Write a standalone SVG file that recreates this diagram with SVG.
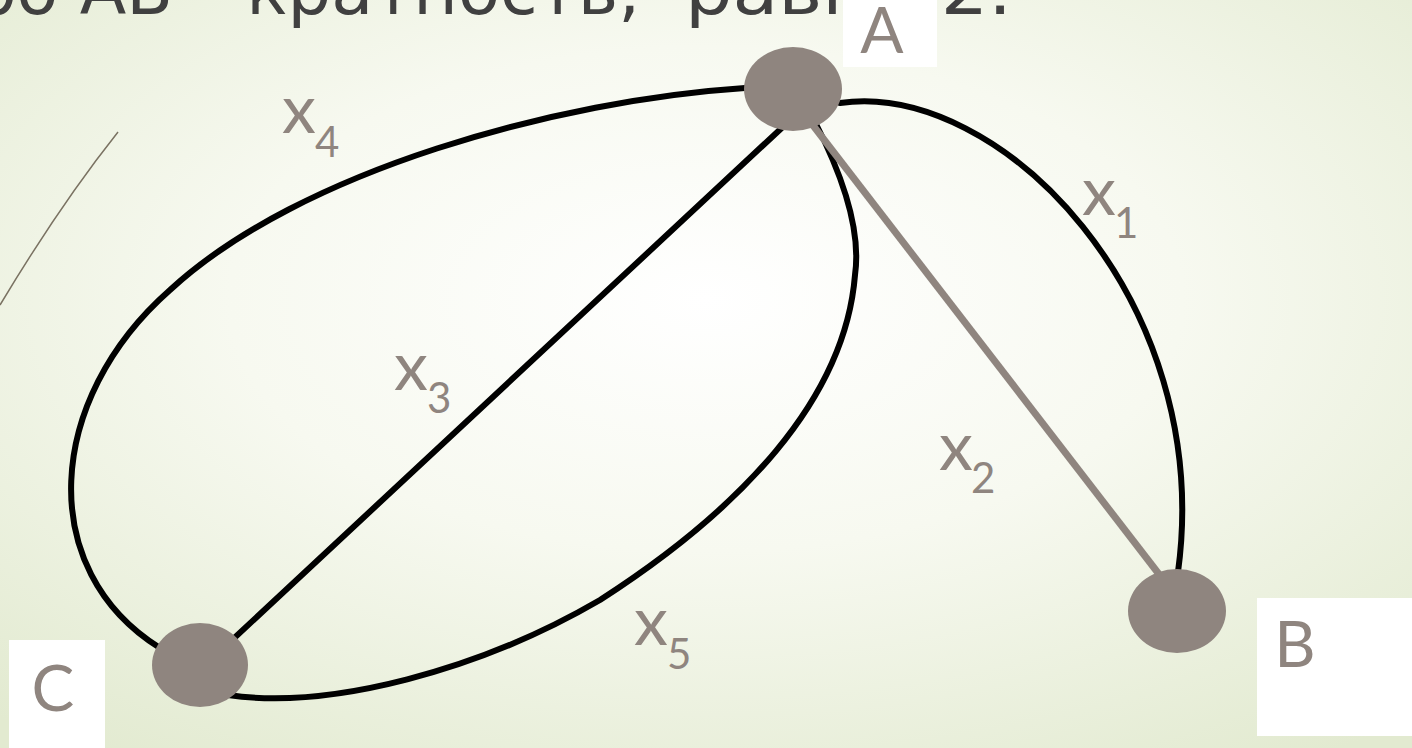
<svg xmlns="http://www.w3.org/2000/svg" width="1412" height="748" viewBox="0 0 1412 748">
<defs>
<radialGradient id="bg" cx="50%" cy="40%" r="75%">
<stop offset="0" stop-color="#ffffff"/>
<stop offset="0.45" stop-color="#f7f9f0"/>
<stop offset="1" stop-color="#e2ead0"/>
</radialGradient>
<style>
.title{font-family:"DejaVu Sans","Noto Sans",sans-serif;font-size:68px;fill:#404040}
.edge{fill:none;stroke:#000;stroke-width:6;stroke-linecap:round}
.node{fill:#8f857f}
.box{fill:#fff}
.lbl{font-family:Lato,"Noto Sans",sans-serif;font-size:64px;fill:#8f857f}
.x{font-family:Lato,"Noto Sans",sans-serif;font-size:68px;fill:#8f857f}
.sub{font-size:42px}
</style>
</defs>
<rect width="1412" height="748" fill="url(#bg)"/>
<path d="M118,132 Q60,205 0,305" fill="none" stroke="#7a7262" stroke-width="1.5"/>
<g id="title">
<text class="title" x="173" y="14" text-anchor="end">ребро АВ</text>
<text class="title" x="190" y="14" textLength="450" lengthAdjust="spacingAndGlyphs">– кратность,</text>
<text class="title" x="685" y="14" textLength="327" lengthAdjust="spacingAndGlyphs">равна 2.</text>
</g>
<g id="connectors">
<path id="e-x4" class="edge" d="M745,88 C560,100 300,170 170,290 C45,400 35,570 160,648"/>
<path id="e-x3" class="edge" d="M801,110 L216,655"/>
<path id="e-x5" class="edge" d="M815,122 C850,190 860,240 855,275 C845,400 740,510 600,600 C480,670 330,710 228,695"/>
<path id="e-x1" class="edge" d="M840,103 C1000,80 1215,300 1178,572"/>
<path id="e-x2" d="M805,115 L1165,582" fill="none" stroke="#8f857f" stroke-width="7"/>
</g>
<g id="edge-labels">
<text class="x" x="282" y="133">x<tspan class="sub" x="315" y="157">4</tspan></text>
<text class="x" x="394" y="390">x<tspan class="sub" x="427" y="413">3</tspan></text>
<text class="x" x="634" y="645">x<tspan class="sub" x="667" y="669">5</tspan></text>
<text class="x" x="939" y="470">x<tspan class="sub" x="971" y="493">2</tspan></text>
<text class="x" x="1082" y="215">x<tspan class="sub" x="1114" y="238">1</tspan></text>
</g>
<g id="node-A">
<ellipse class="node" cx="793" cy="89" rx="49" ry="42"/>
<rect class="box" x="843" y="0" width="94" height="67"/>
<text class="lbl" x="882" y="53" text-anchor="middle">A</text>
</g>
<g id="node-B">
<ellipse class="node" cx="1177" cy="611" rx="49" ry="42"/>
<rect class="box" x="1257" y="598" width="155" height="138"/>
<text class="lbl" x="1295" y="667" text-anchor="middle">B</text>
</g>
<g id="node-C">
<ellipse class="node" cx="200" cy="665" rx="48" ry="42"/>
<rect class="box" x="9" y="640" width="96" height="108"/>
<text class="lbl" x="53" y="711" text-anchor="middle">C</text>
</g>
</svg>
